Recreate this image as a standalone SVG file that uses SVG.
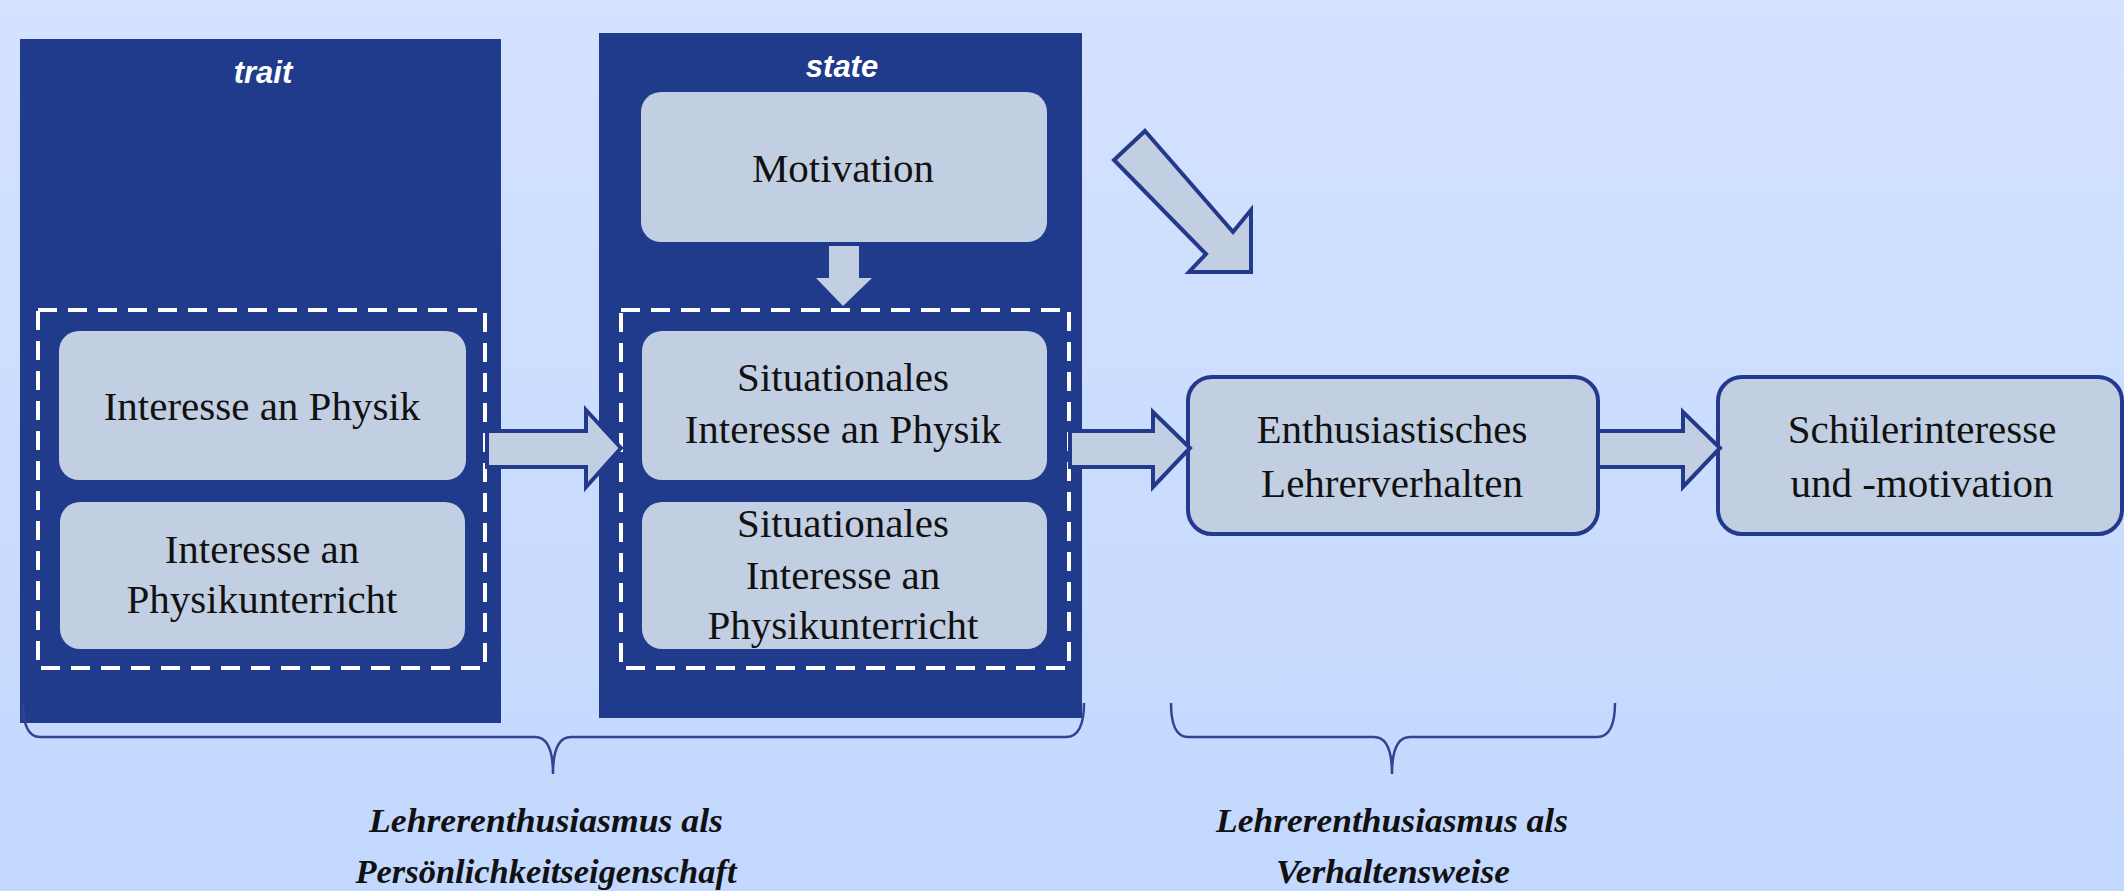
<svg xmlns="http://www.w3.org/2000/svg" width="2124" height="891" viewBox="0 0 2124 891">
<defs>
<linearGradient id="bg" x1="0" y1="0" x2="0" y2="1">
<stop offset="0" stop-color="#d3e2fe"/>
<stop offset="1" stop-color="#c3d8ff"/>
</linearGradient>
<style>
.panel{fill:#213b8c}
.box{fill:#c2cfe2}
.obox{fill:#c2cfe2;stroke:#22398c;stroke-width:4}
.dash{fill:none;stroke:#ffffff;stroke-width:4;stroke-dasharray:19 11}
.arr{fill:#c2cfe2;stroke:#22398c;stroke-width:4;stroke-linejoin:miter}
.t{font-family:"Liberation Serif","Times New Roman",serif;font-size:41px;fill:#111;text-anchor:middle}
.h{font-family:"Liberation Sans",Arial,sans-serif;font-size:31px;font-weight:bold;font-style:italic;fill:#fff;text-anchor:middle}
.b{font-family:"Liberation Serif","Times New Roman",serif;font-size:34px;font-weight:bold;font-style:italic;fill:#111;text-anchor:middle}
.brace{fill:none;stroke:#2e4594;stroke-width:2.5}
</style>
</defs>
<rect width="2124" height="891" fill="url(#bg)"/>

<g id="trait">
<rect class="panel" x="20" y="39" width="481" height="684"/>
<text class="h" x="263" y="83">trait</text>
<rect class="dash" x="38" y="310" width="447" height="358"/>
</g>

<g id="state">
<rect class="panel" x="599" y="33" width="483" height="685"/>
<text class="h" x="842" y="77">state</text>
<rect class="dash" x="621" y="310" width="448" height="358"/>
</g>

<g id="interesse-physik">
<rect class="box" x="59" y="331" width="407" height="149" rx="20"/>
<text class="t" x="262" y="420">Interesse an Physik</text>
</g>

<g id="interesse-unterricht">
<rect class="box" x="60" y="502" width="405" height="147" rx="20"/>
<text class="t" x="262" y="563">Interesse an</text>
<text class="t" x="262" y="613">Physikunterricht</text>
</g>

<g id="motivation">
<rect class="box" x="641" y="92" width="406" height="150" rx="20"/>
<text class="t" x="843" y="182">Motivation</text>
</g>

<g id="sit-physik">
<rect class="box" x="642" y="331" width="405" height="149" rx="20"/>
<text class="t" x="843" y="391">Situationales</text>
<text class="t" x="843" y="443">Interesse an Physik</text>
</g>

<g id="sit-unterricht">
<rect class="box" x="642" y="502" width="405" height="147" rx="20"/>
<text class="t" x="843" y="537">Situationales</text>
<text class="t" x="843" y="589">Interesse an</text>
<text class="t" x="843" y="639">Physikunterricht</text>
</g>

<g id="enthusiastisch">
<rect class="obox" x="1188" y="377" width="410" height="157" rx="24"/>
<text class="t" x="1392" y="443">Enthusiastisches</text>
<text class="t" x="1392" y="497">Lehrerverhalten</text>
</g>

<g id="schueler">
<rect class="obox" x="1718" y="377" width="404" height="157" rx="24"/>
<text class="t" x="1922" y="443">Schülerinteresse</text>
<text class="t" x="1922" y="497">und -motivation</text>
</g>

<g id="connectors">
<polygon class="box" points="829,246 859,246 859,278 872,278 843,306 816,278 829,278"/>
<polygon class="arr" points="487,431 586,431 586,410 621,448 586,487 586,467 487,467"/>
<polygon class="arr" points="1070,431 1153,431 1153,412 1190,448 1153,487 1153,467 1070,467"/>
<polygon class="arr" points="1598,431 1683,431 1683,412 1720,448 1683,487 1683,467 1598,467"/>
<polygon class="arr" points="1145,131 1233,232 1251,210 1251,272 1189,272 1206,254 1114,160"/>
</g>

<g id="braces">
<path class="brace" d="M23,703 Q23,737 40,737 L535,737 Q553,737 553,774 Q553,737 571,737 L1066,737 Q1084,737 1084,703"/>
<path class="brace" d="M1171,703 Q1171,737 1188,737 L1374,737 Q1392,737 1392,774 Q1392,737 1410,737 L1597,737 Q1615,737 1615,703"/>
</g>

<g id="labels">
<text class="b" x="546" y="832" textLength="354" lengthAdjust="spacingAndGlyphs">Lehrerenthusiasmus als</text>
<text class="b" x="546" y="883" textLength="381" lengthAdjust="spacingAndGlyphs">Persönlichkeitseigenschaft</text>
<text class="b" x="1392" y="832" textLength="352" lengthAdjust="spacingAndGlyphs">Lehrerenthusiasmus als</text>
<text class="b" x="1393" y="883" textLength="234" lengthAdjust="spacingAndGlyphs">Verhaltensweise</text>
</g>
</svg>
